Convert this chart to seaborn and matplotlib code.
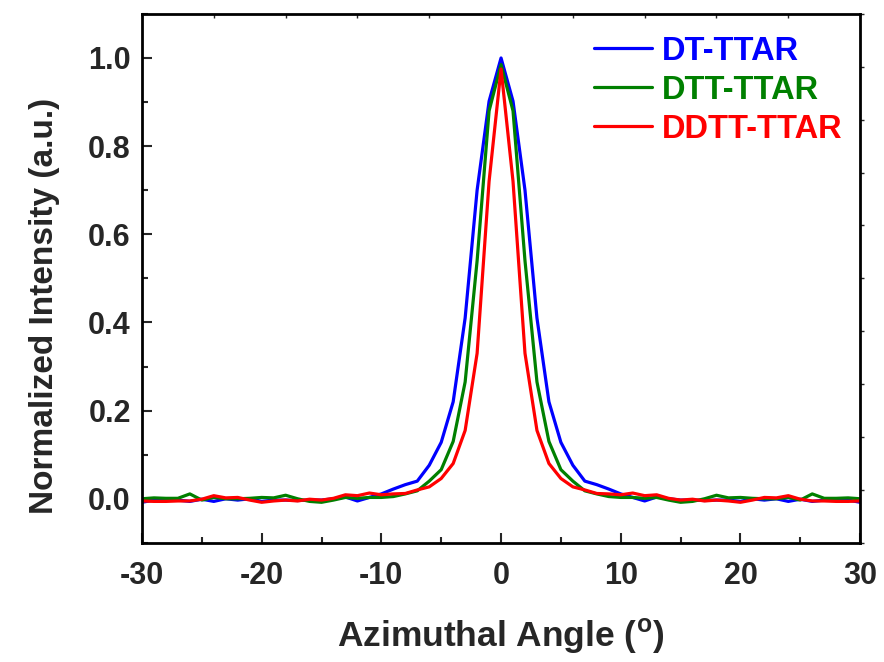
import pandas as pd
import seaborn as sns
import matplotlib.pyplot as plt
from matplotlib.ticker import MultipleLocator

# azimuthal angle in degrees, one point per degree
angle = list(range(-30, 31))

dt_ttar = [
    -0.008, -0.003, -0.003, -0.003, -0.006, -0.001, -0.006, 0.000, -0.003, 0.000,
    -0.006, -0.003, -0.003, -0.004, -0.003, -0.003, 0.000, 0.004, -0.005, 0.003,
    0.011, 0.022, 0.032, 0.040, 0.076, 0.128, 0.220, 0.410, 0.700, 0.902,
    1.000,
    0.902, 0.700, 0.410, 0.220, 0.128, 0.076, 0.040, 0.032, 0.022, 0.011,
    0.003, -0.005, 0.004, 0.000, -0.003, -0.003, -0.004, -0.003, -0.003, -0.006,
    0.000, -0.003, 0.000, -0.006, -0.001, -0.006, -0.003, -0.003, -0.003, -0.008,
]

dtt_ttar = [
    0.000, 0.002, 0.001, 0.001, 0.011, -0.003, 0.003, 0.000, 0.000, 0.001,
    0.003, 0.002, 0.008, 0.000, -0.006, -0.008, -0.003, 0.003, 0.001, 0.003,
    0.003, 0.005, 0.011, 0.018, 0.040, 0.066, 0.130, 0.265, 0.540, 0.880,
    0.985,
    0.880, 0.540, 0.265, 0.130, 0.066, 0.040, 0.018, 0.011, 0.005, 0.003,
    0.003, 0.001, 0.003, -0.003, -0.008, -0.006, 0.000, 0.008, 0.002, 0.003,
    0.001, 0.000, 0.000, 0.003, -0.003, 0.011, 0.001, 0.001, 0.002, 0.000,
]

ddtt_ttar = [
    -0.005, -0.006, -0.006, -0.005, -0.005, -0.001, 0.007, 0.002, 0.003, -0.003,
    -0.008, -0.005, -0.003, -0.005, -0.001, -0.003, 0.001, 0.009, 0.007, 0.013,
    0.009, 0.011, 0.012, 0.020, 0.027, 0.046, 0.080, 0.155, 0.330, 0.720,
    0.975,
    0.720, 0.330, 0.155, 0.080, 0.046, 0.027, 0.020, 0.012, 0.011, 0.009,
    0.013, 0.007, 0.009, 0.001, -0.003, -0.001, -0.005, -0.003, -0.005, -0.008,
    -0.003, 0.003, 0.002, 0.007, -0.001, -0.005, -0.005, -0.006, -0.006, -0.005,
]

samples = ["DT-TTAR", "DTT-TTAR", "DDTT-TTAR"]
colors = ["#0000FF", "#008000", "#FF0000"]

frame = pd.concat(
    [
        pd.DataFrame({"angle": angle, "intensity": vals, "sample": name})
        for name, vals in zip(samples, [dt_ttar, dtt_ttar, ddtt_ttar])
    ],
    ignore_index=True,
)

sns.set_style("ticks")
plt.rcParams["font.family"] = ["Liberation Sans", "DejaVu Sans"]
plt.rcParams["font.weight"] = "bold"
plt.rcParams["axes.unicode_minus"] = False
plt.rcParams["mathtext.fontset"] = "custom"
plt.rcParams["mathtext.bf"] = "Liberation Sans:bold"
plt.rcParams["mathtext.rm"] = "Liberation Sans:bold"

fig = plt.figure(figsize=(8.84, 6.62), dpi=100)
ax = fig.add_axes([0.1606, 0.180, 0.8124, 0.799])

sns.lineplot(
    data=frame, x="angle", y="intensity", hue="sample",
    hue_order=samples, palette=colors, linewidth=2.3, ax=ax, legend=False,
)

ax.set_xlim(-30, 30)
ax.set_ylim(-0.1, 1.1)
ax.xaxis.set_major_locator(MultipleLocator(10))
ax.xaxis.set_minor_locator(MultipleLocator(5))
ax.yaxis.set_major_locator(MultipleLocator(0.2))
ax.yaxis.set_minor_locator(MultipleLocator(0.1))
ax.set_yticks([0.0, 0.2, 0.4, 0.6, 0.8, 1.0])

ax.tick_params(axis="both", which="both", direction="in",
               top=False, right=False, width=1.5, labelsize=22)
ax.tick_params(axis="both", which="major", length=7)
ax.tick_params(axis="both", which="minor", length=4)
ax.tick_params(axis="x", which="major", pad=13)
ax.tick_params(axis="y", which="major", pad=8)
for lab in ax.get_xticklabels() + ax.get_yticklabels():
    lab.set_fontweight("bold")
for side in ["top", "right", "bottom", "left"]:
    ax.spines[side].set_visible(True)
    ax.spines[side].set_linewidth(2)
    ax.spines[side].set_color("black")

# tiny unlabeled ticks on the top and right frame (Origin-style)
top = ax.secondary_xaxis("top")
top.set_xticks([-30 + 6 * i for i in range(11)])
top.tick_params(direction="in", length=3, width=1, labeltop=False)
top.spines["top"].set_visible(False)
right = ax.secondary_yaxis("right")
right.set_yticks([-0.1 + 0.12 * i for i in range(11)])
right.tick_params(direction="out", length=3, width=1, labelright=False)
right.spines["right"].set_visible(False)

ax.set_xlabel(r"Azimuthal Angle ($^{\mathrm{o}}$)", fontsize=25.5, fontweight="bold", labelpad=18)
ax.set_ylabel("Normalized Intensity (a.u.)", fontsize=24, fontweight="bold")
ax.yaxis.set_label_coords(-0.114, 0.448)

handles = [plt.Line2D([], [], color=c, linewidth=2.3) for c in colors]
leg = ax.legend(
    handles, samples, loc="upper right", bbox_to_anchor=(1.003, 0.996),
    frameon=False, fontsize=23.5, handlelength=1.8, handletextpad=0.3,
    labelspacing=0.25, borderaxespad=0.2,
)
for txt, c in zip(leg.get_texts(), colors):
    txt.set_color(c)
    txt.set_fontweight("bold")

fig.savefig("out.png", dpi=100)
